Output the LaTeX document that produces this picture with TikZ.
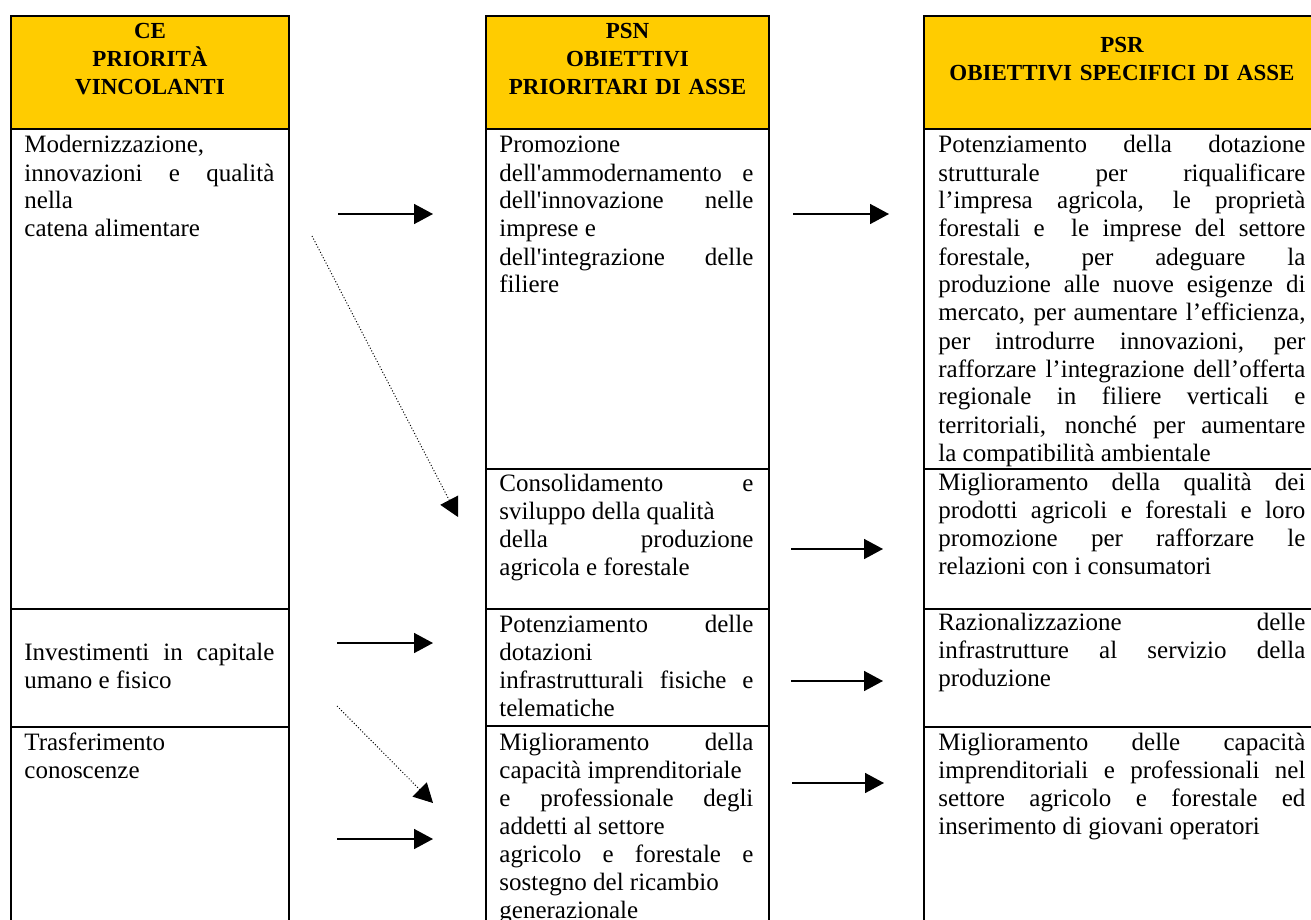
\documentclass[tikz,border=0pt]{standalone}
\usepackage{fontspec}
\setmainfont{Liberation Serif}
\usepackage{xcolor}
\usetikzlibrary{arrows.meta}
\definecolor{gold}{RGB}{255,204,0}
\newcommand{\bodyfont}{\fontsize{12.5}{14}\selectfont}
\newcommand{\headfont}{\fontsize{11.5}{14}\selectfont\bfseries}
\newcommand{\js}[1]{\makebox[\linewidth][s]{#1}}

\begin{document}
\begin{tikzpicture}[x=0.5pt,y=-0.5pt,>=Latex]
  \tikzset{
    grid/.style={line width=1pt},
    headtxt/.style={font=\headfont,align=center,inner sep=0pt,anchor=base},
    celltxt/.style={font=\bodyfont,align=justify,inner sep=0pt,anchor=base west},
    link/.style={-{Triangle[length=9.5pt,width=10pt]},line width=0.8pt},
    dotlink/.style={link,line width=0.5pt,densely dotted}
  }
  \clip (0,0) rectangle (1311,920);
  % columns: header band and outer frame
  \foreach \xa/\xb in {11/289,486/769,924/1320} {
    \fill[gold] (\xa,16) rectangle (\xb,129);
    \draw[grid] (\xa,16) rectangle (\xb,930);
    \draw[grid] (\xa,129) -- (\xb,129);
  }
  % row separators
  \foreach \y in {609,727} \draw[grid] (11,\y) -- (289,\y);
  \foreach \y in {469,609,726} \draw[grid] (486,\y) -- (769,\y);
  \foreach \y in {469,609,727} \draw[grid] (924,\y) -- (1320,\y);

  % headers
  \node[headtxt,text width=125pt] (cehead) at (150,39) {CE\\PRIORITÀ\\VINCOLANTI};
  \node[headtxt,text width=127pt] (psnhead) at (627.5,39) {PSN\\OBIETTIVI\\PRIORITARI DI ASSE};
  \node[headtxt,text width=190pt] (psrhead) at (1122,53) {PSR\\OBIETTIVI SPECIFICI DI ASSE};

  % CE column
  \node[celltxt,text width=125pt] (ce1) at (24,153) {Modernizzazione,\\
    \js{innovazioni e qualità}\\nella\\catena alimentare};
  \node[celltxt,text width=125pt] (ce2) at (24,660) {\js{Investimenti in capitale}\\umano e fisico};
  \node[celltxt,text width=125pt] (ce3) at (24,750) {Trasferimento\\conoscenze};

  % PSN column
  \node[celltxt,text width=127pt] (psn1) at (499,153) {Promozione\\
    \js{dell\textquotesingle ammodernamento e}\\
    \js{dell\textquotesingle innovazione nelle}\\
    imprese e\\
    \js{dell\textquotesingle integrazione delle}\\
    filiere};
  \node[celltxt,text width=127pt] (psn2) at (499,491) {\js{Consolidamento e}\\
    sviluppo della qualità\\
    \js{della produzione}\\
    agricola e forestale};
  \node[celltxt,text width=127pt] (psn3) at (499,632) {\js{Potenziamento delle}\\
    dotazioni\\
    \js{infrastrutturali fisiche e}\\
    telematiche};
  \node[celltxt,text width=127pt] (psn4) at (499,750) {\js{Miglioramento della}\\
    capacità imprenditoriale\\
    \js{e professionale degli}\\
    addetti al settore\\
    \js{agricolo e forestale e}\\
    sostegno del ricambio\\
    generazionale};

  % PSR column
  \node[celltxt,text width=183.5pt] (psr1) at (938,153) {\js{Potenziamento della dotazione}\\
    \js{strutturale per riqualificare}\\
    \js{l’impresa agricola, le proprietà}\\
    \js{forestali e\ \ le imprese del settore}\\
    \js{forestale, per adeguare la}\\
    \js{produzione alle nuove esigenze di}\\
    \js{mercato, per aumentare l’efficienza,}\\
    \js{per introdurre innovazioni, per}\\
    \js{rafforzare l’integrazione dell’offerta}\\
    \js{regionale in filiere verticali e}\\
    \js{territoriali, nonché per aumentare}\\
    la compatibilità ambientale};
  \node[celltxt,text width=183.5pt] (psr2) at (938,490) {\js{Miglioramento della qualità dei}\\
    \js{prodotti agricoli e forestali e loro}\\
    \js{promozione per rafforzare le}\\
    relazioni con i consumatori};
  \node[celltxt,text width=183.5pt] (psr3) at (938,630) {\js{Razionalizzazione delle}\\
    \js{infrastrutture al servizio della}\\
    produzione};
  \node[celltxt,text width=183.5pt] (psr4) at (938,750) {\js{Miglioramento delle capacità}\\
    \js{imprenditoriali e professionali nel}\\
    \js{settore agricolo e forestale ed}\\
    inserimento di giovani operatori};

  % arrows between columns
  \foreach \n/\xa/\xb/\y in {a/338/433/214,b/793/889/214,c/791/883/549,d/337/433/643,
                              e/791/883/681,f/337/433/839,g/792/884/783} {
    \coordinate (s\n) at (\xa,\y);
    \coordinate (e\n) at (\xb,\y);
    \draw[link] (s\n) -- (e\n);
  }
  \coordinate (sdot1) at (312,236);
  \coordinate (edot1) at (458,517);
  \coordinate (sdot2) at (337,706);
  \coordinate (edot2) at (433,803);
  \draw[dotlink] (sdot1) -- (edot1);
  \draw[dotlink] (sdot2) -- (edot2);
\end{tikzpicture}
\end{document}
